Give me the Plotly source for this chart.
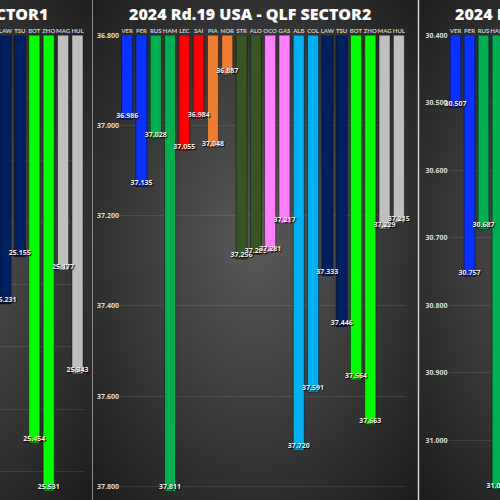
import base64
import plotly.graph_objects as go

# driver order and team colours
drivers = ['VER', 'PER', 'RUS', 'HAM', 'LEC', 'SAI', 'PIA', 'NOR', 'STR', 'ALO',
           'OCO', 'GAS', 'ALB', 'COL', 'LAW', 'TSU', 'BOT', 'ZHO', 'MAG', 'HUL']
team_colors = ['#0a32ff', '#0a32ff', '#00b050', '#00b050', '#ff0000', '#ff0000',
               '#ed7d31', '#ed7d31', '#375623', '#375623', '#ff80ff', '#ff80ff',
               '#00b0f0', '#00b0f0', '#002060', '#002060', '#00ff00', '#00ff00',
               '#bfbfbf', '#bfbfbf']

# sector 1 (only the right end of that panel is in view)
s1_drivers = ['LAW', 'TSU', 'BOT', 'ZHO', 'MAG', 'HUL']
s1_times = [25.231, 25.155, 25.454, 25.531, 25.177, 25.343]

# sector 2
s2_times = [36.986, 37.135, 37.028, 37.811, 37.055, 36.984, 37.048, 36.887, 37.296, 37.286,
            37.281, 37.217, 37.720, 37.591, 37.333, 37.446, 37.564, 37.663, 37.229, 37.215]

# sector 3 (only the left end in view)
s3_drivers = ['VER', 'PER', 'RUS', 'HAM']
s3_times = [30.507, 30.757, 30.687, 31.073]

color_of = dict(zip(drivers, team_colors))
W = 500.0

def px(v):
    return v / W

def panel_bg():
    svg = ("<svg xmlns='http://www.w3.org/2000/svg' width='325' height='500'>"
           "<defs><radialGradient id='g' cx='50%' cy='48%' r='72%'>"
           "<stop offset='0' stop-color='#5a5a5a'/><stop offset='1' stop-color='#1c1c1c'/>"
           "</radialGradient></defs><rect width='325' height='500' fill='url(#g)'/></svg>")
    return 'data:image/svg+xml;base64,' + base64.b64encode(svg.encode()).decode()

fig = go.Figure()

panels = [
    ('x', 'y', s1_drivers, s1_times),
    ('x2', 'y2', drivers, s2_times),
    ('x3', 'y3', s3_drivers, s3_times),
]
for xa, ya, names, vals in panels:
    fig.add_trace(go.Bar(
        x=names, y=vals, xaxis=xa, yaxis=ya, width=0.77,
        marker=dict(color=[color_of[d] for d in names],
                    line=dict(color='rgba(0,0,0,0.45)', width=1)),
        hoverinfo='x+y'))
    fig.add_trace(go.Scatter(
        x=names, y=vals, xaxis=xa, yaxis=ya, mode='text', cliponaxis=False,
        text=['%.3f' % v for v in vals], textposition='top center',
        textfont=dict(family='Open Sans', size=7, color='#eeeeee', weight='bold',
                      shadow='1px 1px 1px #000'),
        hoverinfo='skip'))

top = 1 - px(35.5)
bottom = 1 - px(497)
grid = 'rgba(255,255,255,0.09)'
xcommon = dict(type='category', categoryorder='array', categoryarray=drivers, side='top',
               showgrid=False, zeroline=False, ticks='', ticklen=0, tickangle=0,
               automargin=False,
               tickfont=dict(family='Lato', size=6, color='#cfcfcf', weight='bold'))
ycommon = dict(autorange=False, showgrid=True, gridcolor=grid, gridwidth=1, zeroline=False,
               tickformat='.3f', ticks='', automargin=False,
               tickfont=dict(family='Open Sans', size=7, color='#dcdcdc', weight='bold'))

fig.update_layout(
    width=500, height=500,
    margin=dict(l=0, r=0, t=0, b=0),
    paper_bgcolor='#2e2e2e', plot_bgcolor='rgba(0,0,0,0)',
    showlegend=False,
    xaxis=dict(xcommon, domain=[0, px(84.7)], range=[13.62, 19.5], anchor='y'),
    yaxis=dict(ycommon, domain=[bottom, top], range=[25.541, 24.8], dtick=0.1, anchor='x',
               showticklabels=False),
    xaxis2=dict(xcommon, domain=[px(120), px(406)], range=[-0.5, 19.5], anchor='y2'),
    yaxis2=dict(ycommon, domain=[bottom, top], range=[37.824, 36.8], dtick=0.2, anchor='x2'),
    xaxis3=dict(xcommon, domain=[px(448.5), 1], range=[-0.5, 3.18], anchor='y3'),
    yaxis3=dict(ycommon, domain=[bottom, top], range=[31.084, 30.4], dtick=0.1, anchor='x3'),
)

# dark vignette backgrounds, one per panel
for left in (-233, 93, 419):
    fig.add_layout_image(source=panel_bg(), xref='paper', yref='paper',
                         x=px(left), y=1, sizex=px(325), sizey=1,
                         xanchor='left', yanchor='top', sizing='stretch', layer='below')

# panel separators
fig.add_shape(type='line', xref='paper', yref='paper', x0=px(92.5), x1=px(92.5), y0=0, y1=1,
              line=dict(color='#8c8c8c', width=1))
fig.add_shape(type='line', xref='paper', yref='paper', x0=px(418.5), x1=px(418.5), y0=0, y1=1,
              line=dict(color='#d0d0d0', width=1.5))

title_font = dict(family='Open Sans', size=16, color='#ffffff', weight=800)
fig.add_annotation(text='2024 Rd.19 USA - QLF SECTOR1', xref='paper', yref='paper',
                   x=px(50), y=1 - px(14), xanchor='right', yanchor='middle',
                   showarrow=False, font=title_font)
fig.add_annotation(text='2024 Rd.19 USA - QLF SECTOR2', xref='paper', yref='paper',
                   x=px(250), y=1 - px(14), xanchor='center', yanchor='middle',
                   showarrow=False, font=title_font)
fig.add_annotation(text='2024 Rd.19 USA - QLF SECTOR3', xref='paper', yref='paper',
                   x=px(453), y=1 - px(14), xanchor='left', yanchor='middle',
                   showarrow=False, font=title_font)

fig.write_html('out.html', config={'displayModeBar': False},
               post_script="document.body.style.margin='0';")
